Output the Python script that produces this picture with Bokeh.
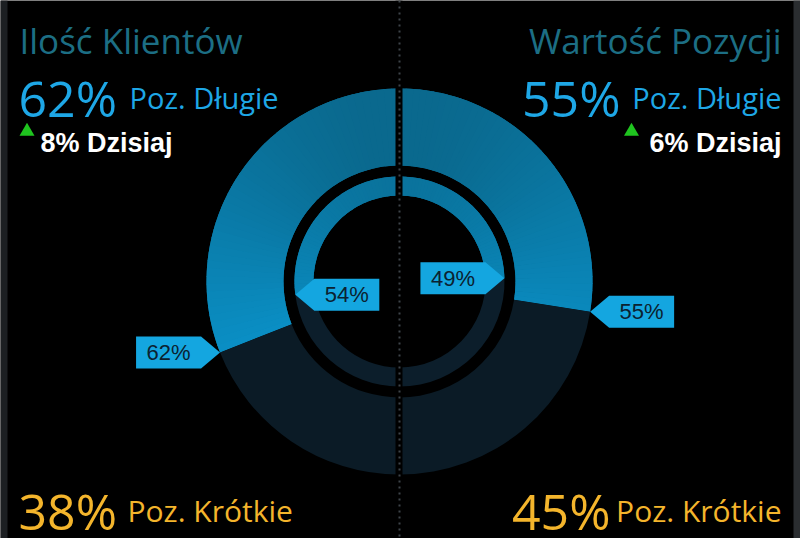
import numpy as np
from bokeh.plotting import figure
from bokeh.models import Range1d, Span, BoxAnnotation
from bokeh.core.properties import value
from bokeh.embed import file_html
from bokeh.resources import INLINE

# ---------------- data ----------------
titles = ["Ilość Klientów", "Wartość Pozycji"]
long_pct = [62, 55]          # outer ring, long share
short_pct = [38, 45]         # outer ring, short share
inner_long_pct = [54, 49]    # inner ring, long share
change_pct = [8, 6]          # daily change
long_label = "Poz. Długie"
short_label = "Poz. Krótkie"
today_label = "Dzisiaj"

# ---------------- style ----------------
W, H = 800, 538
CX, CY = 399, H - 281
R_OUT = (116, 193)
R_IN = (86, 105)
TITLE_C = "#1c6e84"
LONG_C = "#1ea7e6"
SHORT_C = "#f4b52c"
SHORT_RING = "#0b1b26"
SHORT_RING_IN = "#0c1e2b"
CALLOUT_C = "#14a6e0"
CALLOUT_TXT = "#0b2231"
HEAD_FONT = value("Open Sans")
ARIAL = value("Liberation Sans")

p = figure(width=W, height=H, x_range=Range1d(0, W), y_range=Range1d(0, H),
           output_backend="svg", toolbar_location=None, min_border=0,
           x_axis_location=None, y_axis_location=None,
           background_fill_color="black", border_fill_color="black",
           outline_line_color=None)
p.grid.visible = False


def grad(ypx):
    t = min(max((ypx - 88) / (473 - 88), 0), 1)
    c0 = np.array([10, 98, 132])
    c1 = np.array([10, 168, 232])
    c = (c0 + t * (c1 - c0)).astype(int)
    return "#%02x%02x%02x" % tuple(c)


def long_wedge(r_in, r_out, a0, a1, n=48):
    mid_y = H - (CY + (r_in + r_out) / 2 * np.sin((a0 + a1) / 2))
    p.annular_wedge(x=[CX], y=[CY], inner_radius=r_in, outer_radius=r_out,
                    start_angle=a0, end_angle=a1, color=grad(mid_y), line_color=None)
    edges = np.linspace(a0, a1, n + 1)
    s0, s1, cols = [], [], []
    for i in range(n):
        am = (edges[i] + edges[i + 1]) / 2
        ypx = H - (CY + (r_in + r_out) / 2 * np.sin(am))
        s0.append(edges[i])
        s1.append(min(edges[i + 1] + 0.004, a1))
        cols.append(grad(ypx))
    p.annular_wedge(x=[CX] * n, y=[CY] * n, inner_radius=r_in, outer_radius=r_out,
                    start_angle=s0, end_angle=s1, color=cols, line_color=None)


callout_xs, callout_ys, callout_tx, callout_ty, callout_text = [], [], [], [], []


def add_callout(r, b, pct, outward):
    tx = CX + r * np.cos(b)
    ty = CY + r * np.sin(b)
    s = np.sign(np.cos(b))
    d = s if outward else -s
    callout_xs.append([tx, tx + d * 19, tx + d * 84, tx + d * 84, tx + d * 19])
    callout_ys.append([ty, ty + 16, ty + 16, ty - 16, ty - 16])
    callout_tx.append(tx + d * 51.5)
    callout_ty.append(ty)
    callout_text.append(f"{pct}%")


for side in range(2):
    for (r_in, r_out), frac_pct, srt in ((R_OUT, long_pct[side], SHORT_RING),
                                          (R_IN, inner_long_pct[side], SHORT_RING_IN)):
        f = frac_pct / 100
        if side == 0:
            b = np.pi / 2 + f * np.pi
            long_wedge(r_in, r_out, np.pi / 2, b)
            p.annular_wedge(x=[CX], y=[CY], inner_radius=r_in, outer_radius=r_out,
                            start_angle=b, end_angle=3 * np.pi / 2, color=srt, line_color=None)
        else:
            b = np.pi / 2 - f * np.pi
            long_wedge(r_in, r_out, b, np.pi / 2)
            p.annular_wedge(x=[CX], y=[CY], inner_radius=r_in, outer_radius=r_out,
                            start_angle=-np.pi / 2, end_angle=b, color=srt, line_color=None)
        add_callout(r_out, b, frac_pct, outward=(r_out == R_OUT[1]))

# centre gap + dotted divider
p.add_layout(Span(location=398.5, dimension="height", line_color="black", line_width=7))
p.add_layout(Span(location=399, dimension="height", line_color="#3e444a",
                  line_dash="2 4", line_width=2))

# callouts
p.patches(xs=callout_xs, ys=callout_ys, fill_color=CALLOUT_C, line_color=None)
p.text(x=callout_tx, y=callout_ty, text=callout_text, text_font=ARIAL,
       text_font_size="22px", text_color=CALLOUT_TXT, text_align="center",
       text_baseline="middle")

# ---------------- texts ----------------
def txt(x, y_px, s, size, color, align, font=HEAD_FONT, style="normal"):
    p.text(x=[x], y=[H - y_px], text=[s], text_font=font, text_font_size=size,
           text_font_style=style, text_color=color, text_align=align,
           text_baseline="alphabetic")


# titles
txt(19, 40, titles[0], "35px", TITLE_C, "left")
txt(781, 40, titles[1], "35px", TITLE_C, "right")

# long numbers
txt(18, 97, f"{long_pct[0]}%", "50px", LONG_C, "left")
txt(129, 97, long_label, "29px", LONG_C, "left")
txt(620, 97, f"{long_pct[1]}%", "50px", LONG_C, "right")
txt(781, 97, long_label, "29px", LONG_C, "right")

# daily change
p.scatter(x=[26.5, 631], y=[H - 131, H - 131], marker="triangle", size=15,
          color="#1fc41f", line_color=None)
txt(40, 142, f"{change_pct[0]}% {today_label}", "27px", "white", "left", ARIAL, "bold")
txt(781, 142, f"{change_pct[1]}% {today_label}", "27px", "white", "right", ARIAL, "bold")

# short numbers
txt(18, 510, f"{short_pct[0]}%", "50px", SHORT_C, "left")
txt(127, 510, short_label, "30px", SHORT_C, "left")
txt(610, 510, f"{short_pct[1]}%", "50px", SHORT_C, "right")
txt(781, 510, short_label, "30px", SHORT_C, "right")

# window edge strips
p.add_layout(BoxAnnotation(left=0, right=7, fill_color="#1c1f22", fill_alpha=1, line_color=None))
p.add_layout(BoxAnnotation(left=793, right=800, fill_color="#2a2d30", fill_alpha=1, line_color=None))

open("out.html", "w").write(file_html(p, INLINE))
